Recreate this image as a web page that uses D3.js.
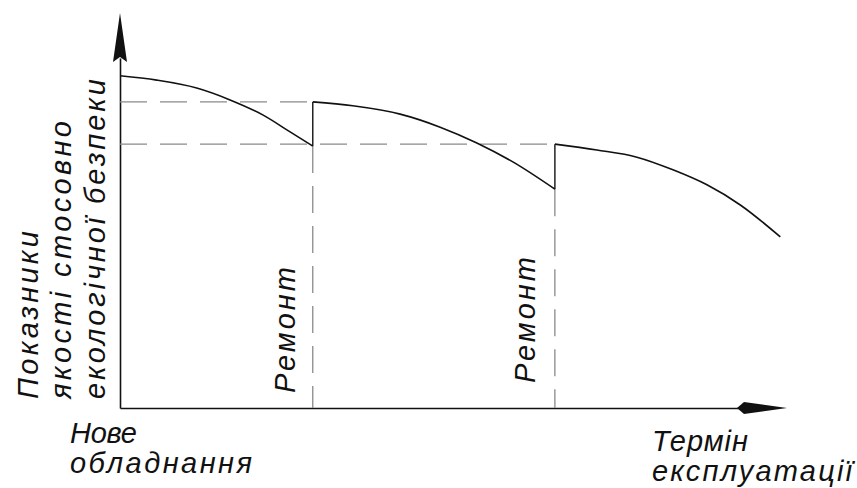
<!DOCTYPE html>
<html>
<head>
<meta charset="utf-8">
<script src="https://cdn.jsdelivr.net/npm/d3@7"></script>
<style>
  body { margin: 0; background: #fff; }
  text { font-family: "Liberation Sans", Arial, sans-serif; font-style: italic; fill: #111; }
</style>
</head>
<body>
<div id="chart"></div>
<script>
const width = 857, height = 488;

// quality curves between repairs (time, quality), 0..100 units
const segment1 = [[0, 84.1], [5.5, 83.0], [11.5, 81.0], [16.5, 78.0], [21.4, 74.2], [25.5, 69.9], [28.9, 66.3]];
const segment2 = [[28.9, 77.5], [34.9, 76.5], [42.0, 74.4], [48.0, 71.1], [53.5, 67.1], [58.9, 62.3], [65.2, 55.4]];
const segment3 = [[65.2, 66.8], [71.5, 65.3], [77.5, 63.5], [82.9, 60.3], [88.0, 56.5], [93.0, 51.4], [99.0, 43.3]];
const segments = [segment1, segment2, segment3];

const repairTimes = [28.9, 65.2];
const repairLabel = "Ремонт";
const yLabelLines = ["Показники", "якості стосовно", "екологічної безпеки"];
const xOriginLabel = ["Нове", "обладнання"];
const xAxisLabel = ["Термін", "експлуатації"];

const xScale = d3.scaleLinear().domain([0, 100]).range([120, 787]);
const yScale = d3.scaleLinear().domain([0, 100]).range([408, 13]);

const svg = d3.select("#chart")
  .append("svg")
    .attr("width", width)
    .attr("height", height)
    .attr("viewBox", [0, 0, width, height]);

const x0 = xScale(0), y0 = yScale(0);

// axes: only the domain lines, no ticks
svg.append("g")
    .attr("transform", `translate(0, ${y0})`)
    .call(d3.axisBottom(d3.scaleLinear().domain([0, 1]).range([x0, 740])).tickValues([]).tickSizeOuter(0))
    .call(g => g.select(".domain").attr("stroke", "#111").attr("stroke-width", 1.6));

svg.append("g")
    .attr("transform", `translate(${x0}, 0)`)
    .call(d3.axisLeft(d3.scaleLinear().domain([0, 1]).range([y0, 58])).tickValues([]).tickSizeOuter(0))
    .call(g => g.select(".domain").attr("stroke", "#111").attr("stroke-width", 1.6));

// arrow heads
const xTip = xScale(100), yTip = yScale(100);
svg.append("path")
    .attr("d", `M${xTip},${y0} L${xTip - 43},${y0 - 6} L${xTip - 50},${y0} L${xTip - 43},${y0 + 6} Z`)
    .attr("fill", "#111");
svg.append("path")
    .attr("d", `M${x0},${yTip} L${x0 + 7},${yTip + 49} L${x0},${yTip + 44} L${x0 - 7},${yTip + 49} Z`)
    .attr("fill", "#111");

// dashed reference levels (quality restored after each repair)
const dash = "27,13";
repairTimes.forEach((t, i) => {
  const level = segments[i + 1][0][1];
  svg.append("line")
      .attr("x1", x0).attr("x2", xScale(t))
      .attr("y1", yScale(level)).attr("y2", yScale(level))
      .attr("stroke", "#8a8a8a").attr("stroke-width", 1.3)
      .attr("stroke-dasharray", dash);
  const low = segments[i][segments[i].length - 1][1];
  svg.append("line")
      .attr("x1", xScale(t)).attr("x2", xScale(t))
      .attr("y1", yScale(low)).attr("y2", y0)
      .attr("stroke", "#8a8a8a").attr("stroke-width", 1.3)
      .attr("stroke-dasharray", dash);
  // jump at repair
  svg.append("line")
      .attr("x1", xScale(t)).attr("x2", xScale(t))
      .attr("y1", yScale(low)).attr("y2", yScale(level))
      .attr("stroke", "#222").attr("stroke-width", 1.5);
});

const line = d3.line()
  .x(d => xScale(d[0]))
  .y(d => yScale(d[1]))
  .curve(d3.curveMonotoneX);

svg.selectAll(".seg")
  .data(segments)
  .join("path")
    .attr("class", "seg")
    .attr("d", line)
    .attr("fill", "none")
    .attr("stroke", "#111")
    .attr("stroke-width", 1.6);

// labels
const fs = 29;

const yLab = [[38, 168], [71, 278], [105, 320]];
yLabelLines.forEach((txt, i) => {
  svg.append("text")
      .attr("transform", `translate(${yLab[i][0]}, 399) rotate(-90)`)
      .attr("font-size", fs)
      .attr("textLength", yLab[i][1])
      .attr("lengthAdjust", "spacing")
      .text(txt);
});

const repLab = [[295, 393, 126], [535, 383, 126]];
repLab.forEach(r => {
  svg.append("text")
      .attr("transform", `translate(${r[0]}, ${r[1]}) rotate(-90)`)
      .attr("font-size", fs)
      .attr("textLength", r[2])
      .attr("lengthAdjust", "spacing")
      .text(repairLabel);
});

const originPos = [[70, 443, 67], [70, 473, 182]];
xOriginLabel.forEach((txt, i) => {
  svg.append("text")
      .attr("x", originPos[i][0]).attr("y", originPos[i][1])
      .attr("font-size", fs)
      .attr("textLength", originPos[i][2])
      .attr("lengthAdjust", "spacing")
      .text(txt);
});

const axisPos = [[652, 451, 96], [652, 481, 200]];
xAxisLabel.forEach((txt, i) => {
  svg.append("text")
      .attr("x", axisPos[i][0]).attr("y", axisPos[i][1])
      .attr("font-size", fs)
      .attr("textLength", axisPos[i][2])
      .attr("lengthAdjust", "spacing")
      .text(txt);
});
</script>
</body>
</html>
